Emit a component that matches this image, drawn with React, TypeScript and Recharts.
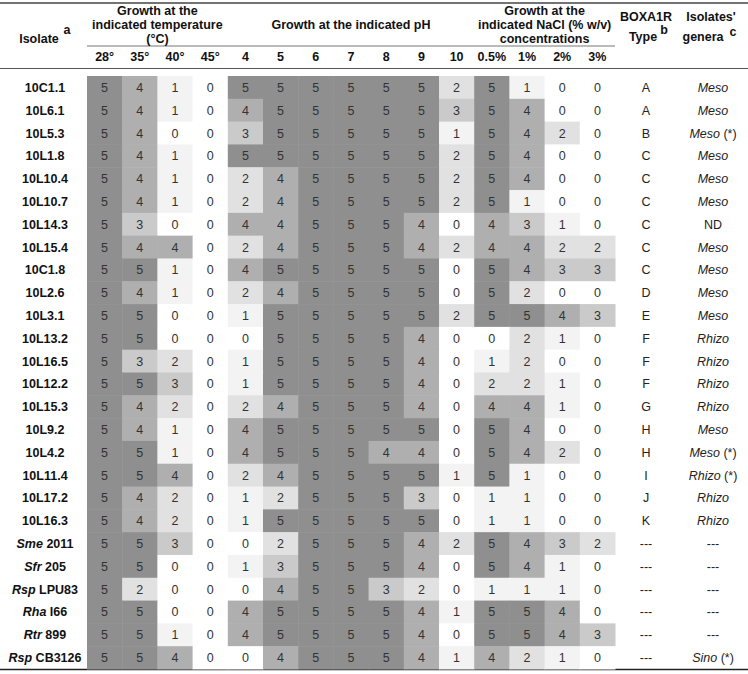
import { ScatterChart, Scatter, XAxis, YAxis, Customized } from "recharts";

const FONT = '"Liberation Sans", Arial, sans-serif';

// table rows
const isolates = [
  "10C1.1", "10L6.1", "10L5.3", "10L1.8", "10L10.4", "10L10.7", "10L14.3", "10L15.4",
  "10C1.8", "10L2.6", "10L3.1", "10L13.2", "10L16.5", "10L12.2", "10L15.3", "10L9.2",
  "10L4.2", "10L11.4", "10L17.2", "10L16.3", "Sme 2011", "Sfr 205", "Rsp LPU83",
  "Rha I66", "Rtr 899", "Rsp CB3126",
];

// column labels
const tempLabels = ["28°", "35°", "40°", "45°"];
const phLabels = ["4", "5", "6", "7", "8", "9", "10"];
const naclLabels = ["0.5%", "1%", "2%", "3%"];

// growth scores 0-5
const tempValues = [
  [5, 4, 1, 0], [5, 4, 1, 0], [5, 4, 0, 0], [5, 4, 1, 0], [5, 4, 1, 0], [5, 4, 1, 0],
  [5, 3, 0, 0], [5, 4, 4, 0], [5, 5, 1, 0], [5, 4, 1, 0], [5, 5, 0, 0], [5, 5, 0, 0],
  [5, 3, 2, 0], [5, 5, 3, 0], [5, 4, 2, 0], [5, 4, 1, 0], [5, 5, 1, 0], [5, 5, 4, 0],
  [5, 4, 2, 0], [5, 4, 2, 0], [5, 5, 3, 0], [5, 5, 0, 0], [5, 2, 0, 0], [5, 5, 0, 0],
  [5, 5, 1, 0], [5, 5, 4, 0],
];

const phValues = [
  [5, 5, 5, 5, 5, 5, 2], [4, 5, 5, 5, 5, 5, 3], [3, 5, 5, 5, 5, 5, 1], [5, 5, 5, 5, 5, 5, 2],
  [2, 4, 5, 5, 5, 5, 2], [2, 4, 5, 5, 5, 5, 2], [4, 4, 5, 5, 5, 4, 0], [2, 4, 5, 5, 5, 4, 2],
  [4, 5, 5, 5, 5, 5, 0], [2, 4, 5, 5, 5, 5, 0], [1, 5, 5, 5, 5, 5, 2], [0, 5, 5, 5, 5, 4, 0],
  [1, 5, 5, 5, 5, 4, 0], [1, 5, 5, 5, 5, 4, 0], [2, 4, 5, 5, 5, 4, 0], [4, 5, 5, 5, 5, 5, 0],
  [4, 5, 5, 5, 4, 4, 0], [2, 4, 5, 5, 5, 5, 1], [1, 2, 5, 5, 5, 3, 0], [1, 5, 5, 5, 5, 5, 0],
  [0, 2, 5, 5, 5, 4, 2], [1, 3, 5, 5, 5, 4, 0], [0, 4, 5, 5, 3, 2, 0], [4, 5, 5, 5, 5, 4, 1],
  [4, 5, 5, 5, 5, 4, 0], [0, 4, 5, 5, 5, 4, 1],
];

const naclValues = [
  [5, 1, 0, 0], [5, 4, 0, 0], [5, 4, 2, 0], [5, 4, 0, 0], [5, 4, 0, 0], [5, 1, 0, 0],
  [4, 3, 1, 0], [4, 4, 2, 2], [5, 4, 3, 3], [5, 2, 0, 0], [5, 5, 4, 3], [0, 2, 1, 0],
  [1, 2, 0, 0], [2, 2, 1, 0], [4, 4, 1, 0], [5, 4, 0, 0], [5, 4, 2, 0], [5, 1, 0, 0],
  [1, 1, 0, 0], [1, 1, 0, 0], [5, 4, 3, 2], [5, 4, 1, 0], [1, 1, 1, 0], [5, 5, 4, 0],
  [5, 5, 4, 3], [4, 2, 1, 0],
];

const boxTypes = [
  "A", "A", "B", "C", "C", "C", "C", "C", "C", "D", "E", "F", "F", "F", "G", "H",
  "H", "I", "J", "K", "---", "---", "---", "---", "---", "---",
];

const genera = [
  "Meso", "Meso", "Meso (*)", "Meso", "Meso", "Meso", "ND", "Meso", "Meso", "Meso",
  "Meso", "Rhizo", "Rhizo", "Rhizo", "Rhizo", "Meso", "Meso (*)", "Rhizo (*)", "Rhizo",
  "Rhizo", "---", "---", "---", "---", "---", "Sino (*)",
];

const shades = ["#ffffff", "#f3f3f3", "#e1e1e1", "#cacaca", "#afafaf", "#8f8f8f"];

const colLabels = [...tempLabels, ...phLabels, ...naclLabels];
const cells = isolates.flatMap((_, r) =>
  [...tempValues[r], ...phValues[r], ...naclValues[r]].map((v, c) => ({ x: c, y: r, v }))
);

const W = 748;
const H = 674;
const LEFT = 87;
const RIGHT_W = 133;
const TOP = 76;
const BOTTOM = 5;
const CELL_W = (W - LEFT - RIGHT_W) / colLabels.length;
const CELL_H = (H - TOP - BOTTOM) / isolates.length;

const CellShape = (props: any) => {
  const { cx, cy, payload } = props;
  return (
    <g>
      <rect
        x={cx - CELL_W / 2}
        y={cy - CELL_H / 2}
        width={CELL_W + 0.5}
        height={CELL_H + 0.5}
        fill={shades[payload.v]}
      />
      <text x={cx} y={cy + 4.5} textAnchor="middle" fontSize={12.5} fill="#333" fontFamily={FONT}>
        {payload.v}
      </text>
    </g>
  );
};

// left isolate name plus the two text columns on the right
const RowTick = (props: any) => {
  const i = props.payload.value;
  const name = isolates[i];
  if (name === undefined) return null;
  const parts = name.split(" ");
  const g = genera[i];
  const star = g.endsWith(" (*)");
  const genus = star ? g.replace(" (*)", "") : g;
  const plain = genus === "ND" || genus === "---";
  const ty = props.y + 4.5;
  return (
    <g fontFamily={FONT} fontSize={12.5}>
      <text x={45} y={ty} textAnchor="middle" fontWeight="bold" fill="#111">
        {parts.length > 1 ? (
          <>
            <tspan fontStyle="italic">{parts[0]}</tspan>
            <tspan> {parts[1]}</tspan>
          </>
        ) : (
          name
        )}
      </text>
      <text x={646} y={ty} textAnchor="middle" fill="#222">{boxTypes[i]}</text>
      <text x={713} y={ty} textAnchor="middle" fill="#222">
        <tspan fontStyle={plain ? "normal" : "italic"}>{genus}</tspan>
        {star && <tspan> (*)</tspan>}
      </text>
    </g>
  );
};

const ColTick = (props: any) => (
  <text x={props.x} y={61} textAnchor="middle" fontSize={12.5} fontWeight="bold" fill="#111" fontFamily={FONT}>
    {colLabels[props.payload.value]}
  </text>
);

const Header = () => {
  const tX = LEFT + CELL_W * 2;
  const pX = LEFT + CELL_W * 7.5;
  const nX = LEFT + CELL_W * 13;
  return (
    <g fontFamily={FONT} fontSize={12.5} fontWeight="bold" fill="#111">
      <line x1={0} x2={W} y1={3} y2={3} stroke="#444" strokeWidth={1.5} />
      <line x1={LEFT} x2={LEFT + CELL_W * 15} y1={46} y2={46} stroke="#777" strokeWidth={1} />
      <line x1={0} x2={W} y1={68.5} y2={68.5} stroke="#555" strokeWidth={1.2} />
      <line x1={0} x2={W} y1={669.5} y2={669.5} stroke="#222" strokeWidth={1.5} />

      <text x={39} y={43} textAnchor="middle">Isolate</text>
      <text x={67} y={34} textAnchor="middle">a</text>

      <text x={tX} y={15} textAnchor="middle">Growth at the</text>
      <text x={tX} y={29} textAnchor="middle">indicated temperature</text>
      <text x={tX} y={43} textAnchor="middle">(°C)</text>

      <text x={pX} y={29} textAnchor="middle">Growth at the indicated pH</text>

      <text x={nX} y={15} textAnchor="middle">Growth at the</text>
      <text x={nX} y={29} textAnchor="middle">indicated NaCl (% w/v)</text>
      <text x={nX} y={43} textAnchor="middle">concentrations</text>

      <text x={646} y={21} textAnchor="middle">BOXA1R</text>
      <text x={643} y={41} textAnchor="middle">Type</text>
      <text x={664} y={34} textAnchor="middle">b</text>

      <text x={711} y={21} textAnchor="middle">Isolates'</text>
      <text x={703} y={41} textAnchor="middle">genera</text>
      <text x={733} y={36} textAnchor="middle">c</text>
    </g>
  );
};

export default function App() {
  return (
    <div style={{ position: "absolute", left: 0, top: 0, background: "#fff", fontFamily: FONT }}>
      <ScatterChart width={W} height={H} margin={{ top: 0, right: RIGHT_W, bottom: BOTTOM, left: 0 }}>
        <XAxis
          type="number"
          dataKey="x"
          orientation="top"
          height={TOP}
          domain={[-0.5, colLabels.length - 0.5]}
          ticks={colLabels.map((_, i) => i)}
          interval={0}
          axisLine={false}
          tickLine={false}
          tick={<ColTick />}
        />
        <YAxis
          type="number"
          dataKey="y"
          width={LEFT}
          reversed
          domain={[-0.5, isolates.length - 0.5]}
          ticks={isolates.map((_, i) => i)}
          interval={0}
          axisLine={false}
          tickLine={false}
          tick={<RowTick />}
        />
        <Scatter data={cells} shape={<CellShape />} isAnimationActive={false} />
        <Customized component={Header} />
      </ScatterChart>
    </div>
  );
}
